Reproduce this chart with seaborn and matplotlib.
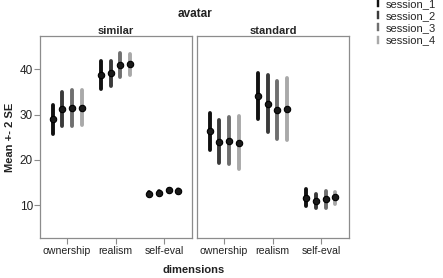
import numpy as np
import pandas as pd
import matplotlib
matplotlib.use("Agg")
import matplotlib.pyplot as plt
from matplotlib.lines import Line2D
import seaborn as sns

sns.set_style("white")
plt.rcParams['font.family'] = ['Liberation Sans', 'DejaVu Sans']

dimensions = ["ownership", "realism", "self-eval"]
sessions = ["session_1", "session_2", "session_3", "session_4"]
panels = ["similar", "standard"]
session_colors = ["#111111", "#3a3a3a", "#6f6f6f", "#a9a9a9"]

# means per panel -> dimension -> session
mean_similar = {
    "ownership": [29.0, 31.2, 31.5, 31.5],
    "realism":   [38.7, 39.1, 41.0, 41.2],
    "self-eval": [12.6, 12.8, 13.3, 13.1],
}
lo_similar = {
    "ownership": [25.7, 27.4, 27.4, 27.6],
    "realism":   [35.6, 36.2, 38.2, 38.6],
    "self-eval": [12.3, 12.4, 12.9, 12.7],
}
hi_similar = {
    "ownership": [32.0, 34.9, 35.4, 35.4],
    "realism":   [41.8, 41.8, 43.5, 43.4],
    "self-eval": [12.9, 13.2, 13.7, 13.5],
}
mean_standard = {
    "ownership": [26.4, 24.0, 24.1, 23.8],
    "realism":   [34.0, 32.3, 30.9, 31.2],
    "self-eval": [11.7, 11.0, 11.4, 11.8],
}
lo_standard = {
    "ownership": [22.1, 19.3, 19.0, 18.0],
    "realism":   [29.0, 26.2, 24.5, 24.3],
    "self-eval": [9.8, 9.4, 9.5, 10.4],
}
hi_standard = {
    "ownership": [30.4, 28.7, 29.5, 29.6],
    "realism":   [39.2, 38.6, 37.3, 38.0],
    "self-eval": [13.5, 12.6, 13.1, 12.9],
}

yticks = [10, 20, 30, 40]

def long_table(means, los, his):
    rows = []
    for d in dimensions:
        for i, s in enumerate(sessions):
            for v in (los[d][i], means[d][i], his[d][i]):
                rows.append({"dimensions": d, "session": s, "value": v})
    return pd.DataFrame(rows)

tables = {
    "similar": long_table(mean_similar, lo_similar, hi_similar),
    "standard": long_table(mean_standard, lo_standard, hi_standard),
}

fig = plt.figure(figsize=(4.43, 2.78), dpi=100)
W, H = 443, 278
top, bottom = 36, 238
ax1 = fig.add_axes([40 / W, 1 - bottom / H, 152 / W, (bottom - top) / H])
ax2 = fig.add_axes([197 / W, 1 - bottom / H, 152 / W, (bottom - top) / H])
axes = [ax1, ax2]

palette = dict(zip(sessions, session_colors))

for ax, p in zip(axes, panels):
    sns.pointplot(
        data=tables[p], x="dimensions", y="value", hue="session",
        order=dimensions, hue_order=sessions, palette=palette,
        estimator="median", errorbar=("pi", 100), dodge=0.6,
        linestyle="none", marker="o", markersize=4.6, err_kws={"linewidth": 2.8},
        legend=False, ax=ax,
    )
    for ln in ax.lines:
        if ln.get_marker() not in (None, "None", "", " "):
            ln.set_markerfacecolor("#1a1a1a")
            ln.set_markeredgecolor("#000000")
            ln.set_markeredgewidth(0.8)
            ln.set_zorder(5)
    ax.set_ylim(2.8, 47.3)
    ax.set_xlim(-0.56, 2.58)
    ax.set_xlabel("")
    ax.set_ylabel("")
    ax.set_title(p, fontsize=8, fontweight="bold", pad=1.5)
    for sp in ax.spines.values():
        sp.set_visible(True)
        sp.set_color("#8c8c8c")
        sp.set_linewidth(0.9)
    ax.tick_params(axis="x", which="both", bottom=True, length=4, width=0.8,
                   color="#8c8c8c", labelsize=7.6, pad=2, labelcolor="#222222")

ax1.set_yticks(yticks)
ax1.tick_params(axis="y", left=True, length=4, width=0.8, color="#8c8c8c",
                labelsize=8.5, pad=1, labelcolor="#222222")
ax2.set_yticks(yticks)
ax2.tick_params(axis="y", left=False, labelleft=False)

fig.text(195 / W, 1 - 14 / H, "avatar", ha="center", va="center",
         fontsize=8.5, fontweight="bold", color="#222222")
fig.text(194 / W, 1 - 270 / H, "dimensions", ha="center", va="center",
         fontsize=8, fontweight="bold", color="#222222")
fig.text(10 / W, 1 - 137 / H, "Mean +- 2 SE", ha="center", va="center",
         rotation=90, fontsize=8, fontweight="bold", color="#222222")

handles = [Line2D([], [], linestyle="none", marker=r"$\mathbf{I}$", markersize=6,
                  color=c, markeredgewidth=0.3) for c in session_colors]
fig.legend(handles, sessions, loc="upper left", bbox_to_anchor=(370 / W, 1.02),
           frameon=False, fontsize=8, handlelength=0.6, handletextpad=0.4,
           labelspacing=0.2, borderaxespad=0)

fig.savefig("out.png", dpi=100)
